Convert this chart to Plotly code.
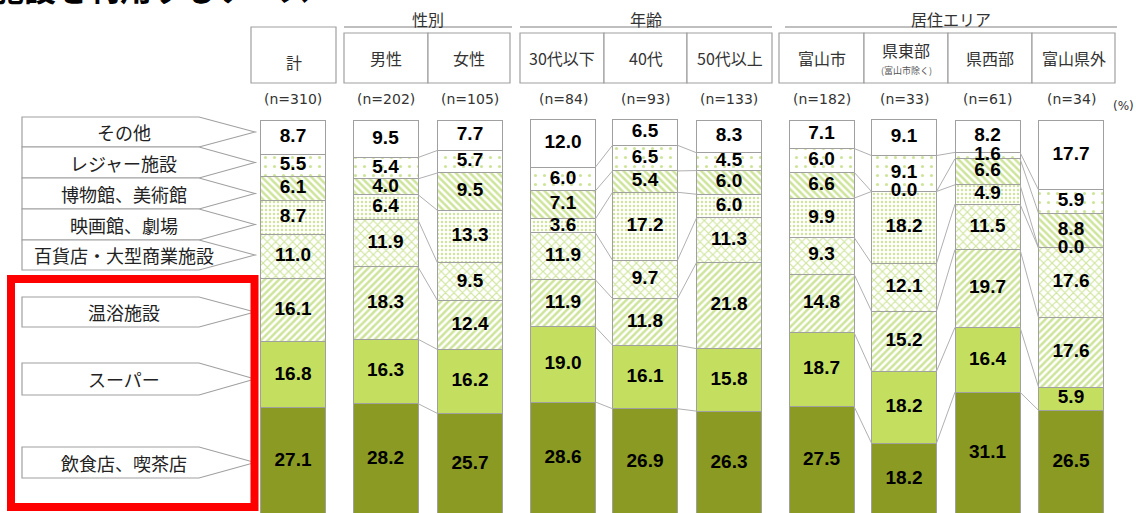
import plotly.graph_objects as go

# ---------------- data ----------------
categories = ["計", "男性", "女性", "30代以下", "40代", "50代以上", "富山市", "県東部", "県西部", "富山県外"]
n_labels = ["(n=310)", "(n=202)", "(n=105)", "(n=84)", "(n=93)", "(n=133)",
            "(n=182)", "(n=33)", "(n=61)", "(n=34)"]
items = ["飲食店、喫茶店", "スーパー", "温浴施設", "百貨店・大型商業施設",
         "映画館、劇場", "博物館、美術館", "レジャー施設", "その他"]
eating = [27.1, 28.2, 25.7, 28.6, 26.9, 26.3, 27.5, 18.2, 31.1, 26.5]
supermarket = [16.8, 16.3, 16.2, 19.0, 16.1, 15.8, 18.7, 18.2, 16.4, 5.9]
onsen = [16.1, 18.3, 12.4, 11.9, 11.8, 21.8, 14.8, 15.2, 19.7, 17.6]
department = [11.0, 11.9, 9.5, 11.9, 9.7, 11.3, 9.3, 12.1, 11.5, 17.6]
cinema = [8.7, 6.4, 13.3, 3.6, 17.2, 6.0, 9.9, 18.2, 4.9, 0.0]
museum = [6.1, 4.0, 9.5, 7.1, 5.4, 6.0, 6.6, 0.0, 6.6, 8.8]
leisure = [5.5, 5.4, 5.7, 6.0, 6.5, 4.5, 6.0, 9.1, 1.6, 5.9]
other = [8.7, 9.5, 7.7, 12.0, 6.5, 8.3, 7.1, 9.1, 8.2, 17.7]
series = [eating, supermarket, onsen, department, cinema, museum, leisure, other]
group_names = ["性別", "年齢", "居住エリア"]
group_members = [[1, 2], [3, 4, 5], [6, 7, 8, 9]]
title_text = "施設を利用するケース"

# ---------------- layout geometry (pixels) ----------------
W, H = 1136, 513
xc = [293, 385.5, 470, 563, 645, 729, 821.5, 904, 987.5, 1071]
bw = 65
px_per_pct = 3.95
top_px = 120
y_hi = 100 + top_px / px_per_pct
y_lo = ((top_px + 100 * px_per_pct) - H) / px_per_pct

def X(p):
    return p / W

def Y(p):
    return 1 - p / H

GREEN = "#9dc935"
styles = [
    dict(color="#8a9a23"),
    dict(color="#c4df60"),
    dict(color="white", pattern=dict(shape="/", fgcolor=GREEN, bgcolor="white", size=5, solidity=0.5)),
    dict(color="white", pattern=dict(shape="x", fgcolor=GREEN, bgcolor="white", size=6, solidity=0.35)),
    dict(color="white", pattern=dict(shape=".", fgcolor=GREEN, bgcolor="white", size=4, solidity=0.3)),
    dict(color="white", pattern=dict(shape="\\", fgcolor=GREEN, bgcolor="white", size=5, solidity=0.5)),
    dict(color="white", pattern=dict(shape=".", fgcolor=GREEN, bgcolor="white", size=9, solidity=0.1)),
    dict(color="white"),
]

fig = go.Figure()
for name, vals, st in zip(items, series, styles):
    fig.add_trace(go.Bar(
        x=xc, y=vals, width=bw, name=name,
        marker=dict(line=dict(color="#a0a0a0", width=1), **st),
        hoverinfo="skip",
    ))

# cumulative values
cum = []
run = [0.0] * len(categories)
for vals in series:
    run = [r + v for r, v in zip(run, vals)]
    cum.append(run[:])

# connector lines within groups
cx, cy = [], []
for members in group_members:
    for a, b in zip(members[:-1], members[1:]):
        for k in range(len(series) - 1):
            cx += [xc[a] + bw / 2, xc[b] - bw / 2, None]
            cy += [cum[k][a], cum[k][b], None]
fig.add_trace(go.Scatter(x=cx, y=cy, mode="lines", line=dict(color="#b0b0b0", width=1),
                         hoverinfo="skip"))

# value labels
tx, ty, tt = [], [], []
for si, vals in enumerate(series):
    for i, v in enumerate(vals):
        base = cum[si][i] - v
        tx.append(xc[i])
        ty.append(base + v / 2)
        tt.append(f"{v:.1f}")
fig.add_trace(go.Scatter(x=tx, y=ty, text=tt, mode="text",
                         textfont=dict(family="Liberation Sans", size=19, color="black", weight="bold"),
                         hoverinfo="skip"))

shapes = []
annotations = []

# header boxes
box_edges = [(251, 336), (344, 428), (428, 510), (520, 604), (604, 687), (687, 772),
             (779, 864), (864, 948), (948, 1032), (1032, 1115)]
for i, (x0, x1) in enumerate(box_edges):
    y0 = 27 if i == 0 else 33
    shapes.append(dict(type="rect", xref="paper", yref="paper", x0=X(x0), x1=X(x1), y0=Y(y0), y1=Y(83),
                       line=dict(color="#a0a0a0", width=1.2), fillcolor="white"))
    cxp = (x0 + x1) / 2
    if categories[i] == "県東部":
        annotations.append(dict(xref="paper", yref="paper", x=X(cxp), y=Y(50), text=categories[i],
                                showarrow=False, font=dict(size=16, color="#333"), xanchor="center", yanchor="middle"))
        annotations.append(dict(xref="paper", yref="paper", x=X(cxp), y=Y(70), text="(富山市除く)",
                                showarrow=False, font=dict(size=9, color="#555"), xanchor="center", yanchor="middle"))
    else:
        yy = 62 if i == 0 else 58
        annotations.append(dict(xref="paper", yref="paper", x=X(cxp), y=Y(yy), text=categories[i],
                                showarrow=False, font=dict(size=16, color="#333"), xanchor="center", yanchor="middle"))
    annotations.append(dict(xref="paper", yref="paper", x=X(xc[i]), y=Y(99), text=n_labels[i],
                            showarrow=False, font=dict(family="DejaVu Sans", size=14, color="#333"),
                            xanchor="center", yanchor="middle"))

# group headers
group_lines = [(344, 512), (520, 772), (785, 1117)]
for gname, (x0, x1) in zip(group_names, group_lines):
    shapes.append(dict(type="line", xref="paper", yref="paper", x0=X(x0), x1=X(x1), y0=Y(27), y1=Y(27),
                       line=dict(color="#808080", width=1.2)))
    annotations.append(dict(xref="paper", yref="paper", x=X((x0 + x1) / 2), y=Y(19), text=gname,
                            showarrow=False, font=dict(size=16, color="#333"), xanchor="center", yanchor="middle"))

annotations.append(dict(xref="paper", yref="paper", x=X(1123), y=Y(106), text="(%)",
                        showarrow=False, font=dict(family="DejaVu Sans", size=12, color="#333"),
                        xanchor="center", yanchor="middle"))

# left pointer labels
label_boxes = [(117, 147), (147, 178), (178, 209), (209, 240), (240, 270),
               (297, 327), (363, 395), (447, 478)]
label_order = ["その他", "レジャー施設", "博物館、美術館", "映画館、劇場", "百貨店・大型商業施設",
               "温浴施設", "スーパー", "飲食店、喫茶店"]
for (y0, y1), lab in zip(label_boxes, label_order):
    ym = (y0 + y1) / 2
    path = (f"M {X(22)},{Y(y0)} L {X(199)},{Y(y0)} L {X(255)},{Y(ym)} "
            f"L {X(199)},{Y(y1)} L {X(22)},{Y(y1)} Z")
    shapes.append(dict(type="path", xref="paper", yref="paper", path=path,
                       line=dict(color="#a0a0a0", width=1.2), fillcolor="white"))
    annotations.append(dict(xref="paper", yref="paper", x=X(124), y=Y(ym), text=lab,
                            showarrow=False, font=dict(size=18, color="#222"), xanchor="center", yanchor="middle"))

# red frame
shapes.append(dict(type="rect", xref="paper", yref="paper", x0=X(11), x1=X(254.5), y0=Y(279), y1=Y(507),
                   line=dict(color="#ff0000", width=8), fillcolor="rgba(0,0,0,0)"))

# clipped title at the very top
annotations.append(dict(xref="paper", yref="paper", x=X(-10), y=Y(-13), text=f"<b>{title_text}</b>",
                        showarrow=False, font=dict(size=32, color="black"), xanchor="left", yanchor="middle"))

fig.update_layout(
    width=W, height=H,
    margin=dict(l=0, r=0, t=0, b=0),
    barmode="stack",
    showlegend=False,
    plot_bgcolor="white", paper_bgcolor="white",
    font=dict(family="Noto Sans CJK JP"),
    xaxis=dict(range=[0, W], visible=False, fixedrange=True),
    yaxis=dict(range=[y_lo, y_hi], visible=False, fixedrange=True),
    shapes=shapes,
    annotations=annotations,
)

fig.write_html("out.html", config={"displayModeBar": False},
               post_script="document.body.style.margin='0';document.body.style.overflow='hidden';")
